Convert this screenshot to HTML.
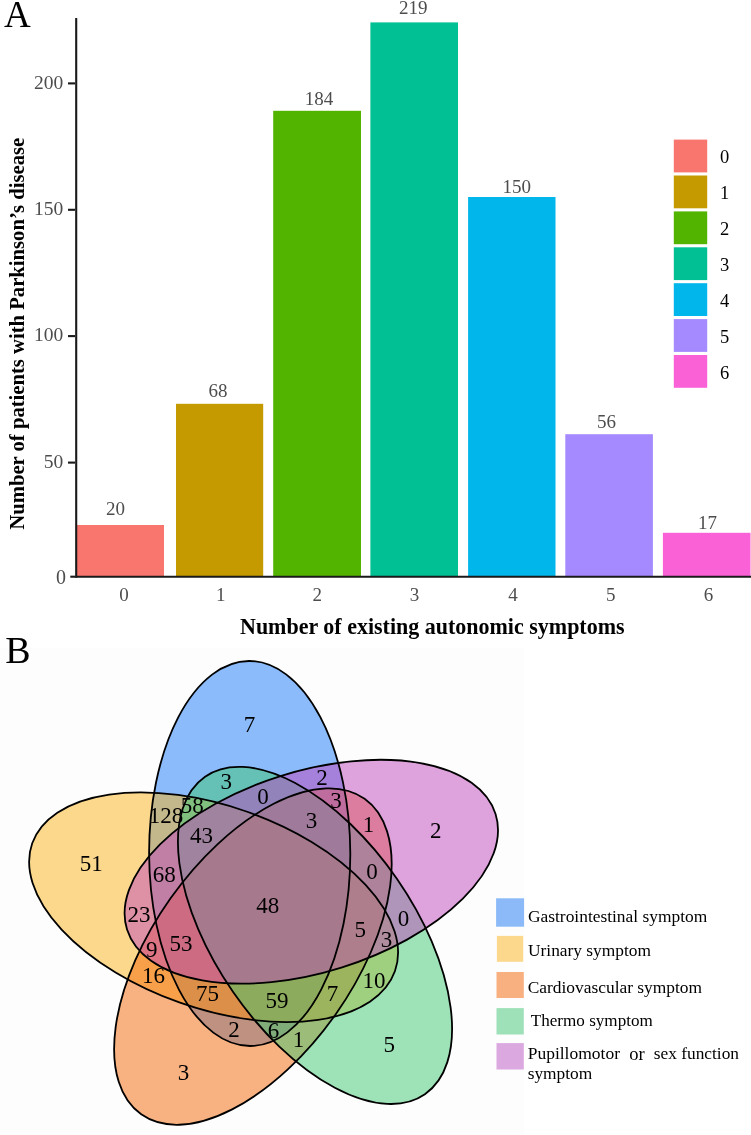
<!DOCTYPE html><html><head><meta charset="utf-8"><style>html,body{margin:0;padding:0;background:#fff;}svg{display:block;will-change:transform;}text{font-family:"Liberation Serif",serif;}</style></head><body>
<svg width="751" height="1135" viewBox="0 0 751 1135">
<rect width="751" height="1135" fill="#fff"/>
<text x="4" y="26.8" font-size="37" fill="#000">A</text>
<rect x="77" y="525.0" width="87.0" height="51.6" fill="#F8766D"/>
<text x="115.6" y="515.1" font-size="19" fill="#4d4d4d" text-anchor="middle">20</text>
<rect x="176" y="403.8" width="87.2" height="172.8" fill="#C49A00"/>
<text x="218.1" y="397" font-size="19" fill="#4d4d4d" text-anchor="middle">68</text>
<rect x="273.2" y="110.8" width="87.8" height="465.8" fill="#53B400"/>
<text x="318.9" y="104.9" font-size="19" fill="#4d4d4d" text-anchor="middle">184</text>
<rect x="370.4" y="22.4" width="87.6" height="554.2" fill="#00C094"/>
<text x="413.3" y="13.85" font-size="19" fill="#4d4d4d" text-anchor="middle">219</text>
<rect x="468.1" y="197.0" width="87.4" height="379.6" fill="#00B6EB"/>
<text x="516.8" y="192.9" font-size="19" fill="#4d4d4d" text-anchor="middle">150</text>
<rect x="565.3" y="434.2" width="87.6" height="142.4" fill="#A58AFF"/>
<text x="606.6" y="428.2" font-size="19" fill="#4d4d4d" text-anchor="middle">56</text>
<rect x="662.9" y="532.8" width="87.6" height="43.8" fill="#FB61D7"/>
<text x="707.5" y="528.8" font-size="19" fill="#4d4d4d" text-anchor="middle">17</text>
<text x="124" y="600.8" font-size="19" fill="#4d4d4d" text-anchor="middle">0</text>
<text x="220.8" y="600.8" font-size="19" fill="#4d4d4d" text-anchor="middle">1</text>
<text x="317.3" y="600.8" font-size="19" fill="#4d4d4d" text-anchor="middle">2</text>
<text x="414.5" y="600.8" font-size="19" fill="#4d4d4d" text-anchor="middle">3</text>
<text x="513.1" y="600.8" font-size="19" fill="#4d4d4d" text-anchor="middle">4</text>
<text x="610.7" y="600.8" font-size="19" fill="#4d4d4d" text-anchor="middle">5</text>
<text x="708.5" y="600.8" font-size="19" fill="#4d4d4d" text-anchor="middle">6</text>
<line x1="76.2" y1="17.9" x2="76.2" y2="577.7" stroke="#1a1a1a" stroke-width="2.1"/>
<line x1="75.2" y1="576.7" x2="751" y2="576.7" stroke="#1a1a1a" stroke-width="2.1"/>
<line x1="68" y1="83.4" x2="75" y2="83.4" stroke="#1a1a1a" stroke-width="2.1"/>
<text x="63.2" y="88.5" font-size="19.5" fill="#4d4d4d" text-anchor="end">200</text>
<line x1="68" y1="209.8" x2="75" y2="209.8" stroke="#1a1a1a" stroke-width="2.1"/>
<text x="63.2" y="215" font-size="19.5" fill="#4d4d4d" text-anchor="end">150</text>
<line x1="68" y1="336.1" x2="75" y2="336.1" stroke="#1a1a1a" stroke-width="2.1"/>
<text x="63.2" y="341.3" font-size="19.5" fill="#4d4d4d" text-anchor="end">100</text>
<line x1="68" y1="462.6" x2="75" y2="462.6" stroke="#1a1a1a" stroke-width="2.1"/>
<text x="63.2" y="467.8" font-size="19.5" fill="#4d4d4d" text-anchor="end">50</text>
<line x1="70.3" y1="576.7" x2="75" y2="576.7" stroke="#1a1a1a" stroke-width="2.1"/>
<text x="66" y="583.6" font-size="20" fill="#4d4d4d" text-anchor="end">0</text>
<text x="240" y="634" font-size="22.6" font-weight="bold" fill="#000" textLength="384.6" lengthAdjust="spacingAndGlyphs">Number of existing autonomic symptoms</text>
<text transform="translate(23.6,529.7) rotate(-90)" x="0" y="0" font-size="21.8" font-weight="bold" fill="#000" textLength="391.9" lengthAdjust="spacingAndGlyphs">Number of patients with Parkinson’s disease</text>
<rect x="673.8" y="139.6" width="33.4" height="32.8" fill="#F8766D"/>
<text x="720" y="163.3" font-size="18.5" fill="#000">0</text>
<rect x="673.8" y="175.5" width="33.4" height="32.8" fill="#C49A00"/>
<text x="720" y="199.2" font-size="18.5" fill="#000">1</text>
<rect x="673.8" y="211.4" width="33.4" height="32.8" fill="#53B400"/>
<text x="720" y="235.1" font-size="18.5" fill="#000">2</text>
<rect x="673.8" y="247.3" width="33.4" height="32.8" fill="#00C094"/>
<text x="720" y="271.0" font-size="18.5" fill="#000">3</text>
<rect x="673.8" y="283.2" width="33.4" height="32.8" fill="#00B6EB"/>
<text x="720" y="306.9" font-size="18.5" fill="#000">4</text>
<rect x="673.8" y="319.1" width="33.4" height="32.8" fill="#A58AFF"/>
<text x="720" y="342.8" font-size="18.5" fill="#000">5</text>
<rect x="673.8" y="355.0" width="33.4" height="32.8" fill="#FB61D7"/>
<text x="720" y="378.7" font-size="18.5" fill="#000">6</text>
<rect x="0" y="648" width="524" height="487" fill="#fdfdfd"/>
<text x="5.2" y="662.6" font-size="38" fill="#000">B</text>
<ellipse cx="249.7" cy="853.5" rx="192.5" ry="100.6" transform="rotate(89.8 249.7 853.5)" fill="#1a7af8" fill-opacity="0.5"/>
<ellipse cx="213.6" cy="907.2" rx="192.3" ry="101.2" transform="rotate(19.4 213.6 907.2)" fill="#fbb41e" fill-opacity="0.5"/>
<ellipse cx="252.9" cy="956.6" rx="193.3" ry="100.9" transform="rotate(125.3 252.9 956.6)" fill="#f46806" fill-opacity="0.5"/>
<ellipse cx="315.0" cy="935.4" rx="193.1" ry="99.6" transform="rotate(55.3 315.0 935.4)" fill="#3fc872" fill-opacity="0.5"/>
<ellipse cx="311.3" cy="871.7" rx="193.1" ry="100.5" transform="rotate(162.6 311.3 871.7)" fill="#bf48bd" fill-opacity="0.5"/>
<ellipse cx="249.7" cy="853.5" rx="192.5" ry="100.6" transform="rotate(89.8 249.7 853.5)" fill="none" stroke="#000" stroke-width="1.8"/>
<ellipse cx="213.6" cy="907.2" rx="192.3" ry="101.2" transform="rotate(19.4 213.6 907.2)" fill="none" stroke="#000" stroke-width="1.8"/>
<ellipse cx="252.9" cy="956.6" rx="193.3" ry="100.9" transform="rotate(125.3 252.9 956.6)" fill="none" stroke="#000" stroke-width="1.8"/>
<ellipse cx="315.0" cy="935.4" rx="193.1" ry="99.6" transform="rotate(55.3 315.0 935.4)" fill="none" stroke="#000" stroke-width="1.8"/>
<ellipse cx="311.3" cy="871.7" rx="193.1" ry="100.5" transform="rotate(162.6 311.3 871.7)" fill="none" stroke="#000" stroke-width="1.8"/>
<text x="249.4" y="731.9" font-size="23" fill="#000" text-anchor="middle">7</text>
<text x="226.2" y="789.3" font-size="23" fill="#000" text-anchor="middle">3</text>
<text x="322" y="784.6" font-size="23" fill="#000" text-anchor="middle">2</text>
<text x="263" y="804.1" font-size="23" fill="#000" text-anchor="middle">0</text>
<text x="335.9" y="807.5" font-size="23" fill="#000" text-anchor="middle">3</text>
<text x="165.9" y="822.8" font-size="23" fill="#000" text-anchor="middle">128</text>
<text x="192.3" y="812.8" font-size="23" fill="#000" text-anchor="middle">58</text>
<text x="311.6" y="828.2" font-size="23" fill="#000" text-anchor="middle">3</text>
<text x="368.4" y="831.7" font-size="23" fill="#000" text-anchor="middle">1</text>
<text x="435.8" y="838.2" font-size="23" fill="#000" text-anchor="middle">2</text>
<text x="91.2" y="871.3" font-size="23" fill="#000" text-anchor="middle">51</text>
<text x="201.6" y="843.1" font-size="23" fill="#000" text-anchor="middle">43</text>
<text x="164.2" y="882.3" font-size="23" fill="#000" text-anchor="middle">68</text>
<text x="371.9" y="878.8" font-size="23" fill="#000" text-anchor="middle">0</text>
<text x="267.7" y="912.8" font-size="23" fill="#000" text-anchor="middle">48</text>
<text x="139.1" y="921.6" font-size="23" fill="#000" text-anchor="middle">23</text>
<text x="360.3" y="936.6" font-size="23" fill="#000" text-anchor="middle">5</text>
<text x="403.6" y="926.3" font-size="23" fill="#000" text-anchor="middle">0</text>
<text x="386.5" y="946.9" font-size="23" fill="#000" text-anchor="middle">3</text>
<text x="151.7" y="957.1" font-size="23" fill="#000" text-anchor="middle">9</text>
<text x="181" y="950.7" font-size="23" fill="#000" text-anchor="middle">53</text>
<text x="153.5" y="983.1" font-size="23" fill="#000" text-anchor="middle">16</text>
<text x="207.4" y="1001.0" font-size="23" fill="#000" text-anchor="middle">75</text>
<text x="277" y="1008.3" font-size="23" fill="#000" text-anchor="middle">59</text>
<text x="332.4" y="1001.4" font-size="23" fill="#000" text-anchor="middle">7</text>
<text x="373.9" y="987.5" font-size="23" fill="#000" text-anchor="middle">10</text>
<text x="234" y="1037.3" font-size="23" fill="#000" text-anchor="middle">2</text>
<text x="273.5" y="1038.1" font-size="23" fill="#000" text-anchor="middle">6</text>
<text x="298.6" y="1047.1" font-size="23" fill="#000" text-anchor="middle">1</text>
<text x="389.2" y="1051.9" font-size="23" fill="#000" text-anchor="middle">5</text>
<text x="183.5" y="1079.6" font-size="23" fill="#000" text-anchor="middle">3</text>
<rect x="496.1" y="898.3" width="28.0" height="28.4" fill="#8cbaf8"/>
<rect x="496.9" y="935.9" width="26.3" height="25.9" fill="#fcd88c"/>
<rect x="496.5" y="972" width="27.3" height="26.0" fill="#f8b080"/>
<rect x="496.5" y="1008.1" width="27.3" height="26.4" fill="#9ee0b8"/>
<rect x="496.5" y="1043.1" width="27.3" height="26.4" fill="#dca8e0"/>
<text x="528" y="921.6" font-size="17.4" fill="#000" textLength="179.2" lengthAdjust="spacingAndGlyphs">Gastrointestinal symptom</text>
<text x="528" y="956.3" font-size="17.4" fill="#000" textLength="123" lengthAdjust="spacingAndGlyphs">Urinary symptom</text>
<text x="527.7" y="992.7" font-size="17.4" fill="#000" textLength="174.4" lengthAdjust="spacingAndGlyphs">Cardiovascular symptom</text>
<text x="530.8" y="1025.6" font-size="17.4" fill="#000" textLength="122" lengthAdjust="spacingAndGlyphs">Thermo symptom</text>
<text x="527.7" y="1058.8" font-size="17.4" fill="#000" textLength="92.3" lengthAdjust="spacingAndGlyphs">Pupillomotor</text>
<text x="629.2" y="1060.2" font-size="18.5" fill="#000">or</text>
<text x="653.8" y="1058.8" font-size="17.4" fill="#000" textLength="85.2" lengthAdjust="spacingAndGlyphs">sex function</text>
<text x="527.7" y="1078.8" font-size="17.4" fill="#000" textLength="64.6" lengthAdjust="spacingAndGlyphs">symptom</text>
</svg></body></html>
